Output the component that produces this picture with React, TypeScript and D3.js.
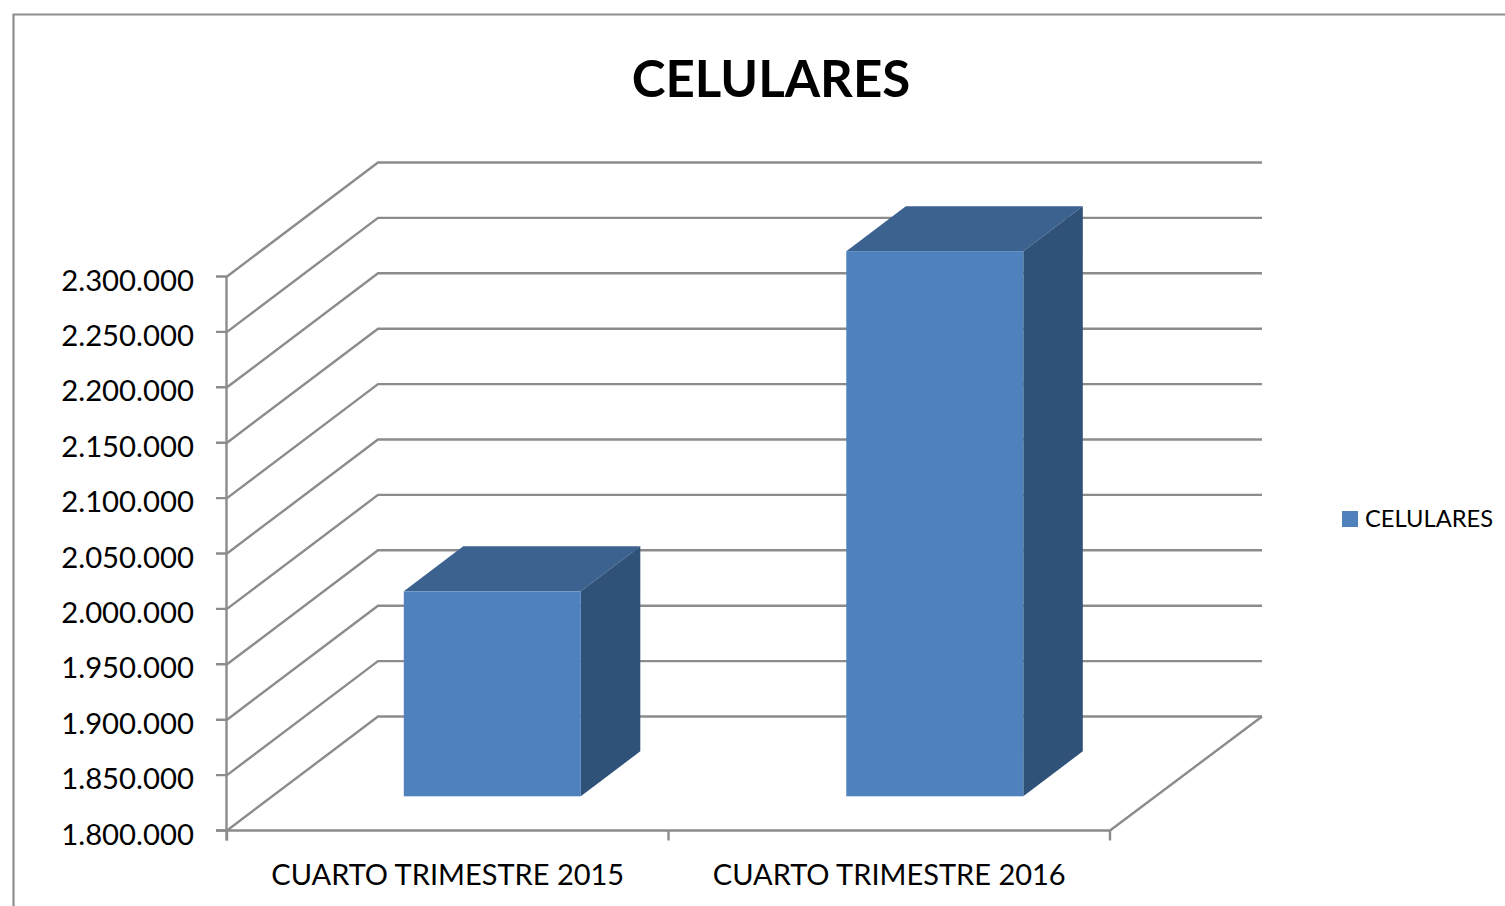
import React from "react";
import * as d3 from "d3";

const categories = ["CUARTO TRIMESTRE 2015", "CUARTO TRIMESTRE 2016"];
const seriesName = "CELULARES";
const values = [1985000, 2292000];
const yTicks = [1800000, 1850000, 1900000, 1950000, 2000000, 2050000, 2100000, 2150000, 2200000, 2250000, 2300000];

const FONT = "Lato, 'Open Sans', sans-serif";
const GRID = "#8c8c8c";
const DEPTH_X = 151;
const DEPTH_Y = 114;
const BAR_DEPTH_X = 59.5;
const BAR_DEPTH_Y = 45;
const BAR_OFFSET = 0.3;

const y = d3.scaleLinear().domain([1800000, 2300000]).range([830.5, 276.5]);
const x = d3.scaleBand().domain(categories).range([227, 1110]);
const barCenter = d3.scalePoint().domain(categories).range([447, 889.5]);
const barWidth = 177;
const fmt = (v: number) => d3.format(",")(v).replace(/,/g, ".");
const path = d3.line();

export default function App() {
  const baseY = y(1800000);
  const x0 = x.range()[0];
  const x1 = x.range()[1];
  return (
    <svg width={1505} height={906} style={{ position: "absolute", left: 0, top: 0, background: "#fff" }} fontFamily={FONT}>
      <path d="M13.5 906V14.5H1505" fill="none" stroke="#8e8e8e" strokeWidth={2.2} />
      <text x={771} y={97} textAnchor="middle" fontSize={51} fontWeight={700} fill="#000">{seriesName}</text>

      {yTicks.map((t) => (
        <g key={t}>
          <path
            d={path([[216, y(t)], [x0, y(t)], [x0 + DEPTH_X, y(t) - DEPTH_Y], [x1 + DEPTH_X + 1, y(t) - DEPTH_Y]])!}
            fill="none" stroke={GRID} strokeWidth={2.4}
          />
          <text x={194} y={y(t) + 14} textAnchor="end" fontSize={29.3} fill="#000">{fmt(t)}</text>
        </g>
      ))}
      <path d={path([[x0 - 0.5, y(2300000)], [x0 - 0.5, baseY + 10]])!} stroke={GRID} strokeWidth={2.4} fill="none" />
      <path d={path([[216, baseY], [x1, baseY], [x1 + DEPTH_X + 1, baseY - DEPTH_Y]])!} stroke={GRID} strokeWidth={2.4} fill="none" />
      {[0, 1, 2].map((i) => {
        const px = x0 + i * x.bandwidth();
        return <path key={i} d={path([[px, baseY], [px, baseY + 10]])!} stroke={GRID} strokeWidth={2.4} fill="none" />;
      })}

      {categories.map((c, i) => {
        const cx = barCenter(c)!;
        const left = cx - barWidth / 2 + BAR_OFFSET * DEPTH_X;
        const right = left + barWidth;
        const bottom = baseY - BAR_OFFSET * DEPTH_Y;
        const top = y(values[i]) - BAR_OFFSET * DEPTH_Y;
        return (
          <g key={c}>
            <path
              d={path([[left, top], [right, top], [right + BAR_DEPTH_X, top - BAR_DEPTH_Y], [left + BAR_DEPTH_X, top - BAR_DEPTH_Y]])! + "Z"}
              fill="#3c628f"
            />
            <path
              d={path([[right, top], [right + BAR_DEPTH_X, top - BAR_DEPTH_Y], [right + BAR_DEPTH_X, bottom - BAR_DEPTH_Y], [right, bottom]])! + "Z"}
              fill="#305279"
            />
            <rect x={left} y={top} width={barWidth} height={bottom - top} fill="#4f81bd" />
            <text x={x(c)! + x.bandwidth() / 2} y={885} textAnchor="middle" fontSize={29} fill="#000">{c}</text>
          </g>
        );
      })}

      <rect x={1342} y={511} width={16} height={16} fill="#4f81bd" />
      <text x={1365} y={527} fontSize={23.7} fill="#000">{seriesName}</text>
    </svg>
  );
}
